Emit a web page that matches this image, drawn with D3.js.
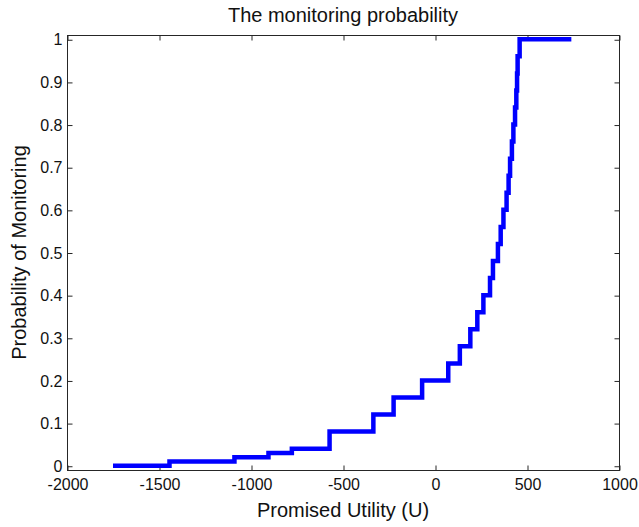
<!DOCTYPE html>
<html>
<head>
<meta charset="utf-8">
<script src="https://cdn.jsdelivr.net/npm/d3@7"></script>
<style>
  html, body { margin: 0; padding: 0; background: #fff; }
  svg { display: block; font-family: "Liberation Sans", Arial, sans-serif; }
</style>
</head>
<body>
<svg id="chart" width="639" height="527"></svg>
<script>
// Step function data (stairs): level prob[i] starts at utility stepU[i]
const stepU = [-1750, -1443, -1090, -905, -778, -573, -335, -225, -70, 72, 135, 192, 230, 263, 299, 315, 342, 357, 372, 389, 400, 408, 418, 426, 435, 442, 446, 449, 460, 741];
const prob  = [0, 0.01, 0.02, 0.03, 0.04, 0.08, 0.12, 0.16, 0.20, 0.24, 0.28, 0.32, 0.36, 0.40, 0.44, 0.48, 0.52, 0.56, 0.60, 0.64, 0.68, 0.72, 0.76, 0.80, 0.84, 0.88, 0.92, 0.96, 1.00, 1.00];
const xTicks = [-2000, -1500, -1000, -500, 0, 500, 1000];
const yTicks = [0, 0.1, 0.2, 0.3, 0.4, 0.5, 0.6, 0.7, 0.8, 0.9, 1];
const titleText = "The monitoring probability";
const xLabelText = "Promised Utility (U)";
const yLabelText = "Probability of Monitoring";

const svg = d3.select("#chart");
const L = 67, R = 619, T = 35, B = 470;
const x = d3.scaleLinear().domain([-2000, 1000]).range([L, R]);
const y = d3.scaleLinear().domain([-0.01, 1.01]).range([B, T]);
const axisColor = "#262626";

// box
svg.append("rect").attr("x", L + 0.5).attr("y", T + 0.5)
  .attr("width", R - L).attr("height", B - T)
  .attr("fill", "none").attr("stroke", axisColor).attr("stroke-width", 1);

function styleAxis(g) {
  g.select(".domain").remove();
  g.selectAll(".tick line").attr("stroke", axisColor);
  g.selectAll(".tick text").attr("fill", "#111").style("font-size", "16px")
    .style("font-family", "'Liberation Sans', Arial, sans-serif");
}

svg.append("g").attr("transform", `translate(0.5,${B + 0.5})`)
  .call(d3.axisBottom(x).tickValues(xTicks).tickSizeInner(-5).tickSizeOuter(0).tickPadding(8).tickFormat(d => String(d)))
  .call(styleAxis);
svg.append("g").attr("transform", `translate(0.5,${T + 0.5})`)
  .call(d3.axisTop(x).tickValues(xTicks).tickSizeInner(-5).tickSizeOuter(0).tickFormat(""))
  .call(styleAxis);
svg.append("g").attr("transform", `translate(${L + 0.5},0.5)`)
  .call(d3.axisLeft(y).tickValues(yTicks).tickSizeInner(-5).tickSizeOuter(0).tickPadding(5).tickFormat(d => String(d)))
  .call(styleAxis);
svg.append("g").attr("transform", `translate(${R + 0.5},0.5)`)
  .call(d3.axisRight(y).tickValues(yTicks).tickSizeInner(-5).tickSizeOuter(0).tickFormat(""))
  .call(styleAxis);

// stairs line
const pts = stepU.map((u, i) => [u, prob[i]]);
const line = d3.line().x(d => x(d[0])).y(d => y(d[1])).curve(d3.curveStepAfter);
svg.append("path").datum(pts)
  .attr("d", line)
  .attr("fill", "none")
  .attr("stroke", "#0000ff")
  .attr("stroke-width", 4.5)
  .attr("stroke-linejoin", "miter")
  .attr("stroke-linecap", "butt");

// texts
svg.append("text").attr("x", (L + R) / 2).attr("y", 22)
  .attr("text-anchor", "middle").attr("fill", "#111").style("font-size", "20px")
  .text(titleText);
svg.append("text").attr("x", (L + R) / 2).attr("y", 517)
  .attr("text-anchor", "middle").attr("fill", "#111").style("font-size", "20px")
  .text(xLabelText);
svg.append("text").attr("transform", `translate(26,${(T + B) / 2}) rotate(-90)`)
  .attr("text-anchor", "middle").attr("fill", "#111").style("font-size", "20px")
  .text(yLabelText);
</script>
</body>
</html>
